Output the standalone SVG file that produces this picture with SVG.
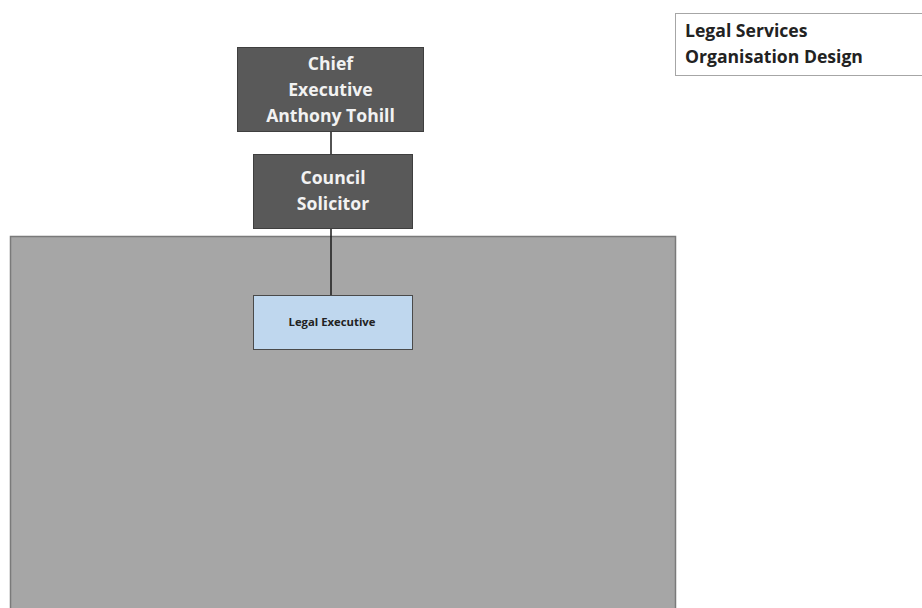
<svg xmlns="http://www.w3.org/2000/svg" width="922" height="608" viewBox="0 0 922 608">
<style>
.dark{fill:#595959;stroke:#3f3f3f;stroke-width:1}
.wt{fill:#f2f2f2;font-family:"Open Sans","Liberation Sans",sans-serif;font-weight:bold;font-size:17.6px;text-anchor:middle}
.bt{fill:#222;font-family:"Open Sans","Liberation Sans",sans-serif;font-weight:bold;font-size:17.6px}
.conn{stroke:#1a1a1a;stroke-width:1.5;fill:none}
</style>
<rect width="922" height="608" fill="#ffffff"/>
<g id="area">
<rect x="10.5" y="236.5" width="665" height="380" fill="#a6a6a6" stroke="#7a7a7a" stroke-width="1.5"/>
</g>
<g id="title">
<rect x="675.5" y="13.5" width="260" height="62" fill="#ffffff" stroke="#a6a6a6" stroke-width="1"/>
<text class="bt" x="685" y="37">Legal Services</text>
<text class="bt" x="685" y="63">Organisation Design</text>
</g>
<g id="connectors">
<line class="conn" x1="331" y1="132" x2="331" y2="154"/>
<line class="conn" x1="331" y1="229" x2="331" y2="295"/>
</g>
<g id="chief">
<rect class="dark" x="237.5" y="47.5" width="186" height="84"/>
<text class="wt" x="330.5" y="70">Chief</text>
<text class="wt" x="330.5" y="96">Executive</text>
<text class="wt" x="330.5" y="122">Anthony Tohill</text>
</g>
<g id="solicitor">
<rect class="dark" x="253.5" y="154.5" width="159" height="74"/>
<text class="wt" x="333" y="184">Council</text>
<text class="wt" x="333" y="210">Solicitor</text>
</g>
<g id="legalexec">
<rect x="253.5" y="295.5" width="159" height="54" fill="#bfd7ee" stroke="#4a4a4a" stroke-width="1"/>
<text x="332" y="326" font-family="'Open Sans','Liberation Sans',sans-serif" font-weight="bold" font-size="11.3" fill="#222" text-anchor="middle">Legal Executive</text>
</g>
</svg>
